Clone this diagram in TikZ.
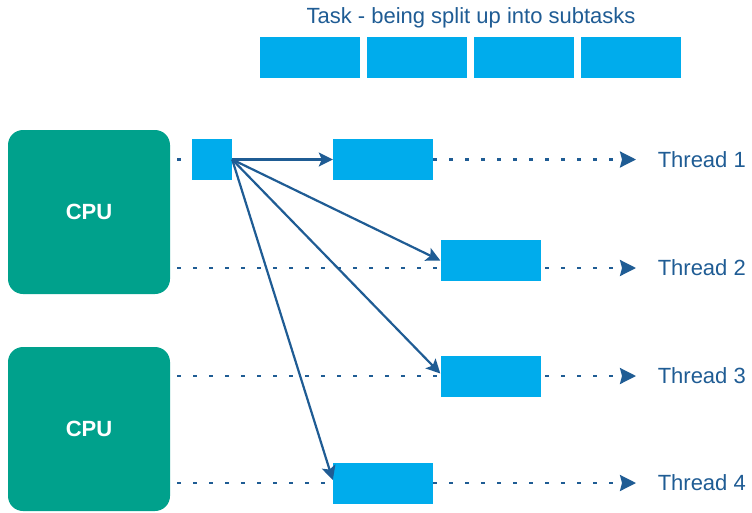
\documentclass[tikz,border=0pt]{standalone}
\usepackage{fontspec}
\setmainfont{Liberation Sans}
\usetikzlibrary{arrows.meta,calc}
\definecolor{cpugreen}{RGB}{0,161,140}
\definecolor{taskblue}{RGB}{0,172,236}
\definecolor{linkblue}{RGB}{31,92,148}
\tikzstyle{cpu}=[fill=cpugreen,rounded corners=15pt,minimum width=162pt,minimum height=164pt,inner sep=0pt,text=white,font=\fontsize{22}{26}\selectfont\bfseries]
\tikzstyle{subtask}=[fill=taskblue,minimum width=100pt,minimum height=41pt,inner sep=0pt]
\tikzstyle{threadline}=[linkblue,line width=2.4pt,dash pattern=on 4pt off 12pt,-{Stealth[length=16pt,width=16pt,inset=2pt]}]
\tikzstyle{splitarrow}=[linkblue,line width=2.2pt,-{Stealth[length=14pt,width=14pt,inset=3pt]}]
\tikzstyle{label}=[text=linkblue,font=\fontsize{22}{26}\selectfont,inner sep=0pt]
\newcommand{\drawthread}[2]{
\coordinate (start#1) at (177,#2);
\coordinate (end#1) at (636,#2);
\draw[threadline] (start#1) -- (end#1);
\node[label,anchor=east] (thread#1) at (746,#2) {Thread #1};
}

\begin{document}
\begin{tikzpicture}[x=1pt,y=-1pt]
	\useasboundingbox (0,0) rectangle (752,512);
	% the task on top
	\node[label] (title) at (471,18) {Task - being split up into subtasks};
	\foreach \i in {0,1,2,3} {
	  \node[subtask] (part\i) at (309.5+107.3*\i,57.5) {};
	}
	% two processors
	\node[cpu] (cpuA) at (89,212) {CPU};
	\node[cpu] (cpuB) at (89,429) {CPU};
	% the four threads
	\drawthread{1}{159.5}
	\drawthread{2}{268}
	\drawthread{3}{376}
	\drawthread{4}{483}
	% subtasks on the threads
	\node[subtask,minimum width=40pt] (split) at (212,159.5) {};
	\node[subtask] (sub1) at (383,159.5) {};
	\node[subtask] (sub2) at (490.5,260.5) {};
	\node[subtask] (sub3) at (490.5,376.5) {};
	\node[subtask] (sub4) at (383,483) {};
	\draw[splitarrow] (split.east) -- (sub1.west);
	\draw[splitarrow] (split.east) -- (sub2.west);
	\draw[splitarrow] (split.east) -- ($(sub3.west)+(0,-3)$);
	\draw[splitarrow] (split.east) -- ($(sub4.west)+(0,-3)$);
\end{tikzpicture}
\end{document}
